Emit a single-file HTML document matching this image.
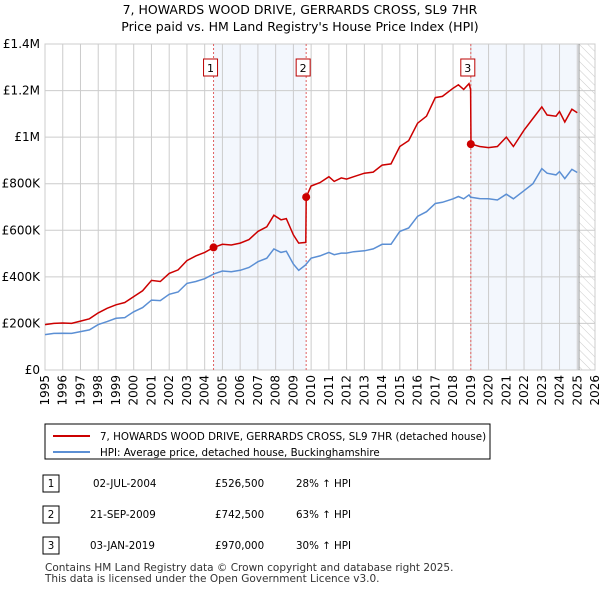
<!DOCTYPE html>
<html><head><meta charset="utf-8"><style>
body{margin:0;background:#fff;font-family:"DejaVu Sans",sans-serif;}
#wrap{position:relative;width:600px;height:590px;overflow:hidden}
</style></head><body><div id="wrap">
<svg id="svg" width="600" height="590" xmlns="http://www.w3.org/2000/svg" font-family="DejaVu Sans, sans-serif">
<defs><pattern id="hatch" width="6" height="6" patternUnits="userSpaceOnUse" patternTransform="rotate(-45)"><line x1="0" y1="0" x2="0" y2="6" stroke="#ccc" stroke-width="1"/></pattern></defs>
<text x="300" y="14" text-anchor="middle" font-size="12.5">7, HOWARDS WOOD DRIVE, GERRARDS CROSS, SL9 7HR</text>
<text x="300" y="31" text-anchor="middle" font-size="12.5">Price paid vs. HM Land Registry's House Price Index (HPI)</text>
<g id="plot"></g>
<rect x="45" y="424" width="445" height="35" fill="#fff" stroke="#000" stroke-width="1"/>
<line x1="53" y1="436" x2="90" y2="436" stroke="#cc0000" stroke-width="2"/>
<text x="100" y="440" font-size="10.3">7, HOWARDS WOOD DRIVE, GERRARDS CROSS, SL9 7HR (detached house)</text>
<line x1="53" y1="452" x2="90" y2="452" stroke="#5b8fd4" stroke-width="2"/>
<text x="100" y="456" font-size="10.3">HPI: Average price, detached house, Buckinghamshire</text>
<g font-size="10.3">
<rect x="43" y="475" width="16" height="17" fill="#fff" stroke="#000"/><text x="51" y="487" text-anchor="middle">1</text>
<text x="93" y="487">02-JUL-2004</text><text x="215" y="487">£526,500</text><text x="296" y="487">28% ↑ HPI</text>
<rect x="43" y="506" width="16" height="17" fill="#fff" stroke="#000"/><text x="51" y="518" text-anchor="middle">2</text>
<text x="90" y="518">21-SEP-2009</text><text x="215" y="518">£742,500</text><text x="296" y="518">63% ↑ HPI</text>
<rect x="43" y="537" width="16" height="17" fill="#fff" stroke="#000"/><text x="51" y="549" text-anchor="middle">3</text>
<text x="90" y="549">03-JAN-2019</text><text x="215" y="549">£970,000</text><text x="296" y="549">30% ↑ HPI</text>
</g>
<text x="45" y="571" font-size="10.5" fill="#333">Contains HM Land Registry data © Crown copyright and database right 2025.</text>
<text x="45" y="582" font-size="10.5" fill="#333">This data is licensed under the Open Government Licence v3.0.</text>
</svg></div>
<script>
const years=[1995,1995.5,1996,1996.5,1997,1997.5,1998,1998.5,1999,1999.5,2000,2000.5,2001,2001.5,2002,2002.5,2003,2003.5,2004,2004.5,2005,2005.5,2006,2006.5,2007,2007.5,2007.9,2008.3,2008.6,2009,2009.3,2009.7,2009.72,2010,2010.5,2011,2011.3,2011.7,2012,2012.4,2013,2013.5,2014,2014.5,2015,2015.5,2016,2016.5,2017,2017.4,2018,2018.3,2018.6,2018.9,2018.99,2019.01,2019.5,2020,2020.5,2021,2021.4,2022,2022.5,2023,2023.3,2023.8,2024,2024.3,2024.7,2025];
const redValues=[195,200,202,200,210,220,245,265,280,290,315,340,385,380,415,430,470,490,505,526,540,537,545,560,595,615,665,645,650,580,545,548,742,790,805,830,810,825,820,830,845,850,880,885,960,985,1060,1090,1170,1175,1210,1225,1205,1230,1205,970,960,955,960,1000,960,1030,1080,1130,1095,1090,1110,1065,1120,1105];
const blueValues=[152,157,158,157,165,172,195,208,222,225,250,268,300,298,325,335,372,380,392,412,425,422,428,440,465,480,520,505,510,455,428,452,455,480,490,505,495,502,502,508,512,520,540,540,595,610,660,680,715,720,735,745,735,752,742,742,736,735,730,755,735,770,800,865,845,838,852,822,862,848];
const yTicks=[0,200,400,600,800,1000,1200,1400];
const yLabels=["£0","£200K","£400K","£600K","£800K","£1M","£1.2M","£1.4M"];
const sales=[{n:"1",t:2004.5,v:526.5},{n:"2",t:2009.72,v:742.5},{n:"3",t:2019.0,v:970}];
const X=t=>45+(t-1995)*550/31, Y=v=>370-v*326/1400;
const NS="http://www.w3.org/2000/svg", g=document.getElementById('plot');
function mk(tag,a,p){const e=document.createElementNS(NS,tag);for(const k in a)e.setAttribute(k,a[k]);(p||g).appendChild(e);return e;}
let e;
e=mk('rect',{x:X(2004.5),y:44,width:X(2009.72)-X(2004.5),height:326,fill:'#eef3fc',opacity:0.7});


e=mk('rect',{x:X(2019),y:44,width:X(2025.1)-X(2019),height:326,fill:'#eef3fc',opacity:0.7});


e=mk('rect',{x:X(2025.1),y:44,width:595-X(2025.1),height:326,fill:'url(#hatch)'});


for(let yr=1995;yr<=2026;yr++){
 e=mk('line',{x1:X(yr),x2:X(yr),y1:44,y2:370,stroke:'#ccc','stroke-width':1});
 
 
 e=mk('text',{x:0,y:0,'font-size':12,'text-anchor':'end',transform:`translate(${X(yr)+4},375) rotate(-90)`});
 e.textContent=yr;
 
 
}
yTicks.forEach((v,i)=>{
 e=mk('line',{x1:45,x2:595,y1:Y(v),y2:Y(v),stroke:'#ccc','stroke-width':1});
 
 
 e=mk('text',{x:40,y:Y(v)+4,'font-size':12,'text-anchor':'end'});
 e.textContent=yLabels[i];
 
 
});
e=mk('rect',{x:45,y:44,width:550,height:326,fill:'none',stroke:'#ccc'});


e=mk('line',{x1:X(2025.1),x2:X(2025.1),y1:44,y2:370,stroke:'#999','stroke-width':1});


sales.forEach(s=>{
 e=mk('line',{x1:X(s.t),x2:X(s.t),y1:44,y2:370,stroke:'#e06060','stroke-dasharray':'2,2','stroke-width':1});
 
 
});
const pts=a=>years.map((t,i)=>X(t).toFixed(1)+','+Y(a[i]).toFixed(1)).join(' ');
e=mk('polyline',{points:pts(blueValues),fill:'none',stroke:'#5b8fd4','stroke-width':1.5});


e=mk('polyline',{points:pts(redValues),fill:'none',stroke:'#cc0000','stroke-width':1.5});


sales.forEach(s=>{
 e=mk('circle',{cx:X(s.t),cy:Y(s.v),r:4,fill:'#cc0000'});
 
 
 e=mk('rect',{x:X(s.t)-10,y:59,width:14,height:17,fill:'#fff',stroke:'#b00'});
 
 
 e=mk('text',{x:X(s.t)-3,y:72,'font-size':11,'text-anchor':'middle'});
 e.textContent=s.n;
 
 
});
</script></body></html>
